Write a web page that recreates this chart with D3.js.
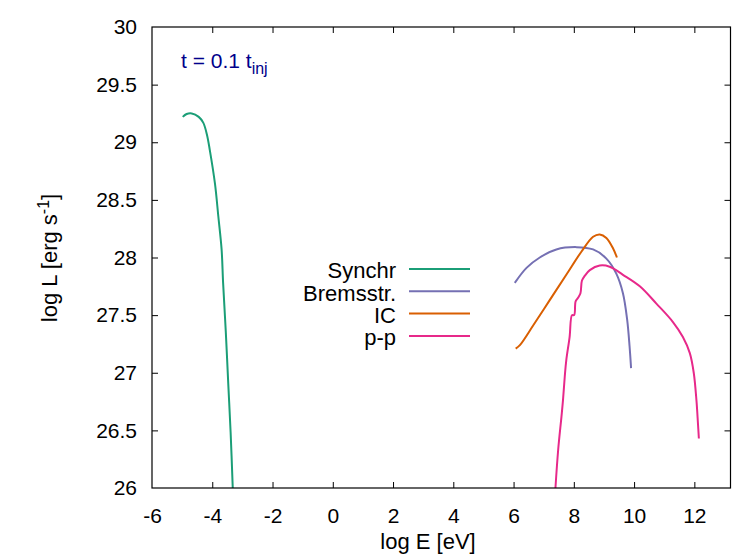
<!DOCTYPE html>
<html>
<head>
<meta charset="utf-8">
<script src="https://cdn.jsdelivr.net/npm/d3@7"></script>
<style>
  body { margin: 0; background: #fff; }
  text { font-family: "Liberation Sans", Arial, sans-serif; }
</style>
</head>
<body>
<svg width="732" height="560"></svg>
<script>
// series: log E [eV] vs log L [erg/s]
const synchX = [-4.98, -4.85, -4.68, -4.45, -4.30, -4.18, -4.08, -3.91, -3.80, -3.69, -3.64, -3.55, -3.47, -3.39, -3.32];
const synchY = [29.22, 29.245, 29.25, 29.22, 29.17, 29.07, 28.93, 28.64, 28.36, 28.07, 27.78, 27.35, 26.91, 26.48, 26.0];

const bremX = [6.04, 6.43, 6.87, 7.42, 8.09, 8.64, 9.08, 9.41, 9.63, 9.77, 9.85, 9.90];
const bremY = [27.78, 27.91, 28.0, 28.07, 28.09, 28.07, 27.99, 27.86, 27.69, 27.46, 27.23, 27.04];

const icX = [6.07, 6.21, 6.65, 7.20, 7.75, 8.25, 8.64, 8.86, 9.08, 9.30, 9.43];
const icY = [27.21, 27.24, 27.41, 27.63, 27.85, 28.05, 28.18, 28.20, 28.17, 28.08, 28.00];

const ppX = [7.39, 7.48, 7.59, 7.64, 7.70, 7.75, 7.86, 7.94, 8.01, 8.06, 8.14, 8.22, 8.27, 8.36, 8.53, 8.86, 9.19, 9.63, 10.19, 10.74, 11.29, 11.62, 11.85, 11.98, 12.07, 12.12, 12.15];
const ppY = [26.0, 26.33, 26.62, 26.76, 26.97, 27.11, 27.31, 27.50, 27.50, 27.62, 27.65, 27.69, 27.80, 27.84, 27.89, 27.93, 27.92, 27.85, 27.75, 27.60, 27.44, 27.31, 27.17, 27.00, 26.76, 26.56, 26.43];

const names = ["Synchr", "Bremsstr.", "IC", "p-p"];
const colors = ["#1b9e77", "#7570b3", "#d95f02", "#e7298a"];
const xTicks = [-6, -4, -2, 0, 2, 4, 6, 8, 10, 12];
const yTicks = [26, 26.5, 27, 27.5, 28, 28.5, 29, 29.5, 30];

const svg = d3.select("svg");
const mLeft = 152, mRight = 730.5, mTop = 27, mBottom = 488;

const x = d3.scaleLinear().domain([-6, 13.2]).range([mLeft, mRight]);
const y = d3.scaleLinear().domain([26, 30]).range([mBottom, mTop]);

svg.append("defs").append("clipPath").attr("id", "plotclip")
  .append("rect").attr("x", mLeft).attr("y", mTop)
  .attr("width", mRight - mLeft).attr("height", mBottom - mTop);

// axes with inward ticks on all four sides
const fmt = d => String(d);
const gx = svg.append("g").attr("transform", `translate(0,${mBottom})`)
  .call(d3.axisBottom(x).tickValues(xTicks).tickSizeInner(-6).tickSizeOuter(0).tickPadding(20).tickFormat(fmt));
const gxt = svg.append("g").attr("transform", `translate(0,${mTop})`)
  .call(d3.axisTop(x).tickValues(xTicks).tickSizeInner(-6).tickSizeOuter(0).tickFormat(""));
const gy = svg.append("g").attr("transform", `translate(${mLeft},0)`)
  .call(d3.axisLeft(y).tickValues(yTicks).tickSizeInner(-6).tickSizeOuter(0).tickPadding(15).tickFormat(fmt));
const gyr = svg.append("g").attr("transform", `translate(${mRight},0)`)
  .call(d3.axisRight(y).tickValues(yTicks).tickSizeInner(-6).tickSizeOuter(0).tickFormat(""));

[gx, gxt, gy, gyr].forEach(g => {
  g.select(".domain").remove();
  g.selectAll(".tick line").attr("stroke", "#000").attr("stroke-width", 1);
  g.selectAll(".tick text").attr("fill", "#000").style("font-size", "21px");
});
// skip the mirrored ticks that sit on the frame corners
gxt.selectAll(".tick").filter(d => d === -6).remove();
gx.selectAll(".tick line").filter(d => d === -6).remove();
gy.selectAll(".tick line").filter(d => d === 26 || d === 30).remove();
gyr.selectAll(".tick").filter(d => d === 26 || d === 30).remove();

// curves
const series = [[synchX, synchY], [bremX, bremY], [icX, icY], [ppX, ppY]];
const line = d3.line().x(d => x(d[0])).y(d => y(d[1])).curve(d3.curveCatmullRom.alpha(0.5));
const plot = svg.append("g").attr("clip-path", "url(#plotclip)");
series.forEach((s, i) => {
  const pts = s[0].map((v, j) => [v, s[1][j]]);
  plot.append("path")
    .attr("d", line(pts))
    .attr("fill", "none")
    .attr("stroke", colors[i])
    .attr("stroke-width", 2)
    .attr("stroke-linejoin", "round");
});

// frame
svg.append("rect").attr("x", mLeft).attr("y", mTop)
  .attr("width", mRight - mLeft).attr("height", mBottom - mTop)
  .attr("fill", "none").attr("stroke", "#000").attr("stroke-width", 1.2);

// legend
const legend = svg.append("g");
names.forEach((n, i) => {
  const ly = 269 + i * 22.3;
  legend.append("text").attr("x", 396).attr("y", ly).attr("dy", "0.42em")
    .attr("text-anchor", "end").style("font-size", "22px").text(n);
  legend.append("line").attr("x1", 409).attr("x2", 470).attr("y1", ly).attr("y2", ly)
    .attr("stroke", colors[i]).attr("stroke-width", 2);
});

// annotation
const ann = svg.append("text").attr("x", 181).attr("y", 68).attr("fill", "#00008b").style("font-size", "21px");
ann.append("tspan").text("t = 0.1 t");
ann.append("tspan").attr("dy", 6).style("font-size", "16px").text("inj");

// axis titles
svg.append("text").attr("x", 428).attr("y", 549)
  .attr("text-anchor", "middle").style("font-size", "22px").text("log E [eV]");

const yl = svg.append("text").attr("transform", "translate(57,258) rotate(-90)")
  .attr("text-anchor", "middle").style("font-size", "22px");
yl.append("tspan").text("log L [erg s");
yl.append("tspan").attr("dy", -8).style("font-size", "16px").text("-1");
yl.append("tspan").attr("dy", 8).text("]");
</script>
</body>
</html>
